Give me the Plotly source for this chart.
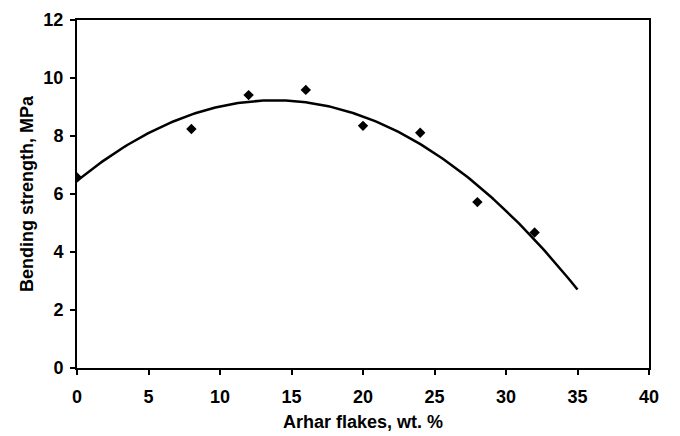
import numpy as np
import plotly.graph_objects as go

# Arhar flake content (wt. %) and measured bending strength (MPa)
flakes = [0, 8, 12, 16, 20, 24, 28, 32]
strength = [6.57, 8.24, 9.41, 9.59, 8.35, 8.11, 5.72, 4.67]

x_ticks = [0, 5, 10, 15, 20, 25, 30, 35, 40]
y_ticks = [0, 2, 4, 6, 8, 10, 12]

# Second-order polynomial trendline over 0-35 wt. %
coef = np.polyfit(flakes, strength, 2)
trend_x = np.linspace(0, 35, 200)
trend_y = np.polyval(coef, trend_x)

font_family = "Arial, Liberation Sans, sans-serif"
label_font = dict(family=font_family, size=18, color="black", weight="bold")

fig = go.Figure()
fig.add_trace(go.Scatter(
    x=trend_x, y=trend_y, mode="lines",
    line=dict(color="black", width=2.5),
    hoverinfo="skip", showlegend=False,
))
fig.add_trace(go.Scatter(
    x=flakes, y=strength, mode="markers",
    marker=dict(symbol="diamond", size=8, color="black"),
    showlegend=False,
))

axis_common = dict(
    showline=True, linecolor="black", linewidth=2, mirror=True,
    ticks="outside", ticklen=5, tickwidth=1.5, tickcolor="black",
    showgrid=False, zeroline=False, automargin=False,
    tickfont=label_font,
)

fig.update_layout(
    width=680, height=436,
    margin=dict(l=77, r=31, t=20, b=68),
    paper_bgcolor="white", plot_bgcolor="white",
    font=dict(family=font_family, color="black"),
    xaxis=dict(
        range=[0, 40], tickvals=x_ticks, ticklabelstandoff=6,
        title=dict(text="Arhar flakes, wt. %", standoff=10, font=label_font),
        **axis_common,
    ),
    yaxis=dict(
        range=[0, 12], tickvals=y_ticks, ticklabelstandoff=3,
        title=dict(text="Bending strength, MPa", standoff=5, font=label_font),
        **axis_common,
    ),
)

fig.write_html("out.html")
